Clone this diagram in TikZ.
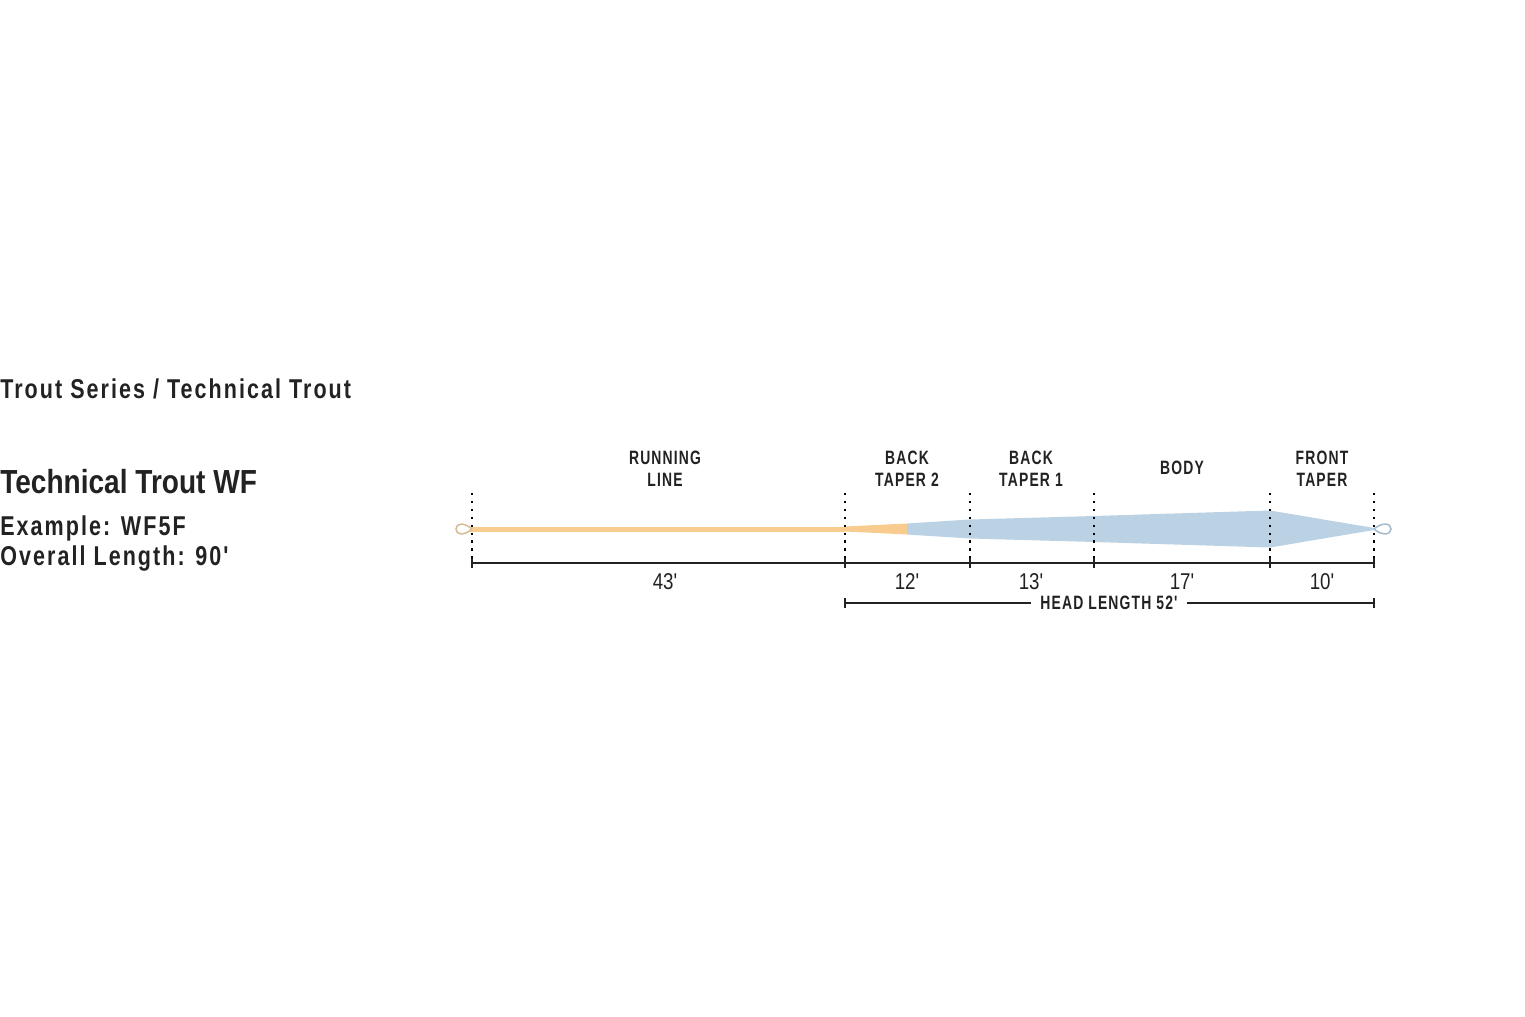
\documentclass[tikz,border=0pt]{standalone}
\usepackage{fontspec}
\setmainfont{Liberation Sans}
\newfontfamily\headfont[FakeStretch=0.79,LetterSpace=7.5]{Liberation Sans}
\newfontfamily\titlefont[FakeStretch=0.84]{Liberation Sans}
\newfontfamily\capsfont[FakeStretch=0.72,LetterSpace=6]{Liberation Sans}
\newfontfamily\numfont[FakeStretch=0.82]{Liberation Sans}
\usetikzlibrary{calc,positioning}

\definecolor{runorange}{HTML}{F8CC8E}
\definecolor{headblue}{HTML}{BBD1E4}
\definecolor{loopbrown}{HTML}{D6BE98}
\definecolor{loopblue}{HTML}{A8BCCC}
\definecolor{inkgray}{HTML}{222222}

\tikzset{
  boundary/.style={black, line width=1.3pt, dash pattern=on 1.3pt off 3.2pt},
  dimline/.style={inkgray, line width=1.2pt},
  seglabel/.style={font=\capsfont\bfseries\fontsize{11}{12.5}\selectfont, text=inkgray, align=center, inner sep=0pt},
  seglength/.style={font=\numfont\fontsize{13}{14}\selectfont, text=inkgray, inner sep=0pt, anchor=base},
  infotext/.style={font=\headfont\bfseries\fontsize{15.5}{17}\selectfont, text=inkgray, inner sep=0pt, anchor=base west}
}

\begin{document}
\begin{tikzpicture}[x=0.02cm, y=-0.02cm]
\useasboundingbox (0,0) rectangle (1525,1017);

% Header texts
\node[infotext] (series) at (0,398) {Trout Series / Technical Trout};
\node[infotext, font=\titlefont\bfseries\fontsize{19}{21}\selectfont] (title) at (0,493) {Technical Trout WF};
\node[infotext] (example) at (0,535) {Example: WF5F};
\node[infotext] (overall) at (0,565) {Overall Length: 90'};

% Segment boundaries
\coordinate (b0) at (472,529);
\coordinate (b1) at (845,529);
\coordinate (b2) at (970,529);
\coordinate (b3) at (1094,529);
\coordinate (b4) at (1270,529);
\coordinate (b5) at (1374,529);

% Running line and taper
\fill[runorange] (470,526.5) rectangle (845,531.5);
\fill[runorange] (845,526.5) -- (907,523.5) -- (907,534.5) -- (845,531.5) -- cycle;
\fill[headblue] (907,523.5) -- (970,519.5) -- (1094,516) -- (1270,510.5) -- (1374,528)
  -- (1374,530) -- (1270,547.5) -- (1094,542) -- (970,538.5) -- (907,534.5) -- cycle;

% Loops
\draw[loopbrown, line width=0.9pt] (b0) .. controls (464,522) and (456,523) .. (456,529)
  .. controls (456,535) and (464,536) .. (b0);
\draw[loopblue, line width=0.9pt] (b5) .. controls (1382,522) and (1391,523) .. (1391,529)
  .. controls (1391,535) and (1382,536) .. (b5);

% Dotted boundaries
\foreach \b in {b0,b1,b2,b3,b4,b5}
  \draw[boundary] ($(\b)+(0,-36)$) -- ($(\b)+(0,39)$);

% Segment names
\node[seglabel, anchor=south] (running) at (665,487) {RUNNING\\LINE};
\node[seglabel, anchor=south] (back2) at (907,487) {BACK\\TAPER 2};
\node[seglabel, anchor=south] (back1) at (1031,487) {BACK\\TAPER 1};
\node[seglabel] (body) at (1182,468) {BODY};
\node[seglabel, anchor=south] (front) at (1322,487) {FRONT\\TAPER};

% Length dimension
\draw[dimline] ($(b0)+(0,34)$) coordinate (d0) -- ($(b5)+(0,34)$) coordinate (d5);
\foreach \b in {b0,b1,b2,b3,b4,b5}
  \draw[dimline] ($(\b)+(0,29)$) -- ($(\b)+(0,39)$);
\node[seglength] (len43) at (665,589) {43'};
\node[seglength] (len12) at (907,589) {12'};
\node[seglength] (len13) at (1031,589) {13'};
\node[seglength] (len17) at (1182,589) {17'};
\node[seglength] (len10) at (1322,589) {10'};

% Head length
\coordinate (h1) at ($(b1)+(0,74)$);
\coordinate (h5) at ($(b5)+(0,74)$);
\node[seglabel, fill=white, inner xsep=5pt, inner ysep=2pt] (headlen) at (1109,603) {HEAD LENGTH 52'};
\draw[dimline] (h1) -- (headlen.west);
\draw[dimline] (headlen.east) -- (h5);
\draw[dimline] ($(h1)+(0,-5)$) -- ($(h1)+(0,5)$);
\draw[dimline] ($(h5)+(0,-5)$) -- ($(h5)+(0,5)$);
\end{tikzpicture}
\end{document}
